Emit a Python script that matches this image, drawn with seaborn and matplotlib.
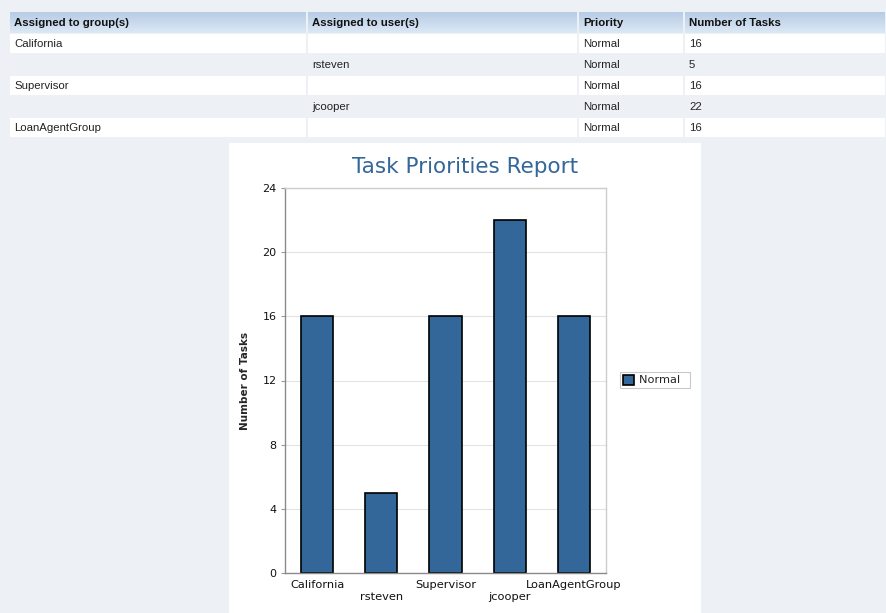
import matplotlib
matplotlib.use("Agg")
import matplotlib.pyplot as plt
import numpy as np
import pandas as pd
import seaborn as sns
from matplotlib.patches import Rectangle

# Table contents
groups = ["California", "", "Supervisor", "", "LoanAgentGroup"]
users = ["", "rsteven", "", "jcooper", ""]
priorities = ["Normal", "Normal", "Normal", "Normal", "Normal"]
task_counts = [16, 5, 16, 22, 16]
headers = ["Assigned to group(s)", "Assigned to user(s)", "Priority", "Number of Tasks"]
y_ticks = [0, 4, 8, 12, 16, 20, 24]

assignees = [g if g else u for g, u in zip(groups, users)]
df = pd.DataFrame({"Assignee": assignees, "Tasks": task_counts, "Priority": priorities})

sns.set_theme(style="white")
table_font = ["Liberation Sans", "DejaVu Sans"]

W, H = 887, 613
fig = plt.figure(figsize=(W / 100, H / 100), dpi=100)
page_bg = "#edf0f5"
fig.patch.set_facecolor(page_bg)

# Page layer in pixel coordinates
bg = fig.add_axes([0, 0, 1, 1], zorder=0)
bg.set_xlim(0, W)
bg.set_ylim(H, 0)
bg.axis("off")

col_x = [10, 308, 579, 685, W]
header_top, header_bot = 12, 33
row_h = 21

# Header row with a soft blue gradient
grad = np.linspace(0, 1, 30).reshape(-1, 1)
top_c = np.array([0.72, 0.80, 0.90])
bot_c = np.array([0.86, 0.91, 0.96])
img = top_c + (bot_c - top_c) * grad[..., None]
img = np.repeat(img, 2, axis=1)
for i in range(4):
    x0, x1 = col_x[i], col_x[i + 1] - 2
    bg.imshow(img, extent=(x0, x1, header_bot, header_top), aspect="auto", zorder=1)
    bg.text(x0 + 4, (header_top + header_bot) / 2 + 0.5, headers[i], fontsize=8.2,
            fontweight="bold", family=table_font, va="center", ha="left", color="#111111", zorder=2)

# Body rows
for r in range(len(groups)):
    y0 = header_bot + r * row_h
    if r % 2 == 0:
        for i in range(4):
            x0, x1 = col_x[i], col_x[i + 1] - 2
            bg.add_patch(Rectangle((x0, y0 + 1), x1 - x0, row_h - 2, facecolor="white",
                                   edgecolor="none", zorder=1))
    cells = [groups[r], users[r], priorities[r], str(task_counts[r])]
    for i, txt in enumerate(cells):
        bg.text(col_x[i] + 4, y0 + row_h / 2 + 0.5, txt, fontsize=8.2, family=table_font,
                va="center", ha="left", color="#222222", zorder=2)

# White chart panel
panel_x0, panel_x1 = 229, 701
bg.add_patch(Rectangle((panel_x0, 143), panel_x1 - panel_x0, H - 143, facecolor="white",
                       edgecolor="none", zorder=1))
bg.set_xlim(0, W)
bg.set_ylim(H, 0)

# Chart title, centred on the panel
bg.text((panel_x0 + panel_x1) / 2, 167, "Task Priorities Report", fontsize=15.5,
        color="#336699", ha="center", va="center", fontweight="medium", zorder=3)

# Chart
ax = fig.add_axes([285 / W, 1 - 573 / H, (606 - 285) / W, (573 - 188) / H], zorder=2)
ax.set_facecolor("white")
bar_color = "#336699"
sns.barplot(data=df, x="Assignee", y="Tasks", hue="Priority", palette=[bar_color],
            width=0.5, edgecolor="black", linewidth=1.2, saturation=1, ax=ax)

ax.set_ylim(0, 24)
ax.set_yticks(y_ticks)
ax.set_yticklabels([str(v) for v in y_ticks], fontsize=8, color="#111111")
ax.yaxis.grid(True, color="#e2e2e2", linewidth=0.8)
ax.set_axisbelow(True)
ax.tick_params(axis="y", length=3, width=0.8, color="#999999", pad=3, left=True)
ax.tick_params(axis="x", length=0, pad=5)

tick_labels = [("\n" + a) if i % 2 else a for i, a in enumerate(assignees)]
ax.set_xticks(range(len(assignees)))
ax.set_xticklabels(tick_labels, fontsize=8.2, color="#111111", linespacing=1.25)
ax.set_xlabel("")
ax.set_ylabel("Number of Tasks", fontsize=7.5, fontweight="bold", labelpad=9)

for side in ["left", "bottom"]:
    ax.spines[side].set_color("#8a8a8a")
    ax.spines[side].set_linewidth(1.0)
for side in ["top", "right"]:
    ax.spines[side].set_color("#cccccc")
    ax.spines[side].set_linewidth(1.0)

leg = ax.legend(loc="center left", bbox_to_anchor=((620 - 285) / (606 - 285), (573 - 380) / (573 - 188)),
                frameon=True, fontsize=8.2, handlelength=1.0, handleheight=1.0,
                handletextpad=0.4, borderpad=0.25, fancybox=False, borderaxespad=0)
leg.get_frame().set_edgecolor("#bbbbbb")
leg.get_frame().set_linewidth(0.8)
for t in leg.get_texts():
    t.set_text("Normal  ")

fig.savefig("out.png", dpi=100, facecolor=page_bg)
